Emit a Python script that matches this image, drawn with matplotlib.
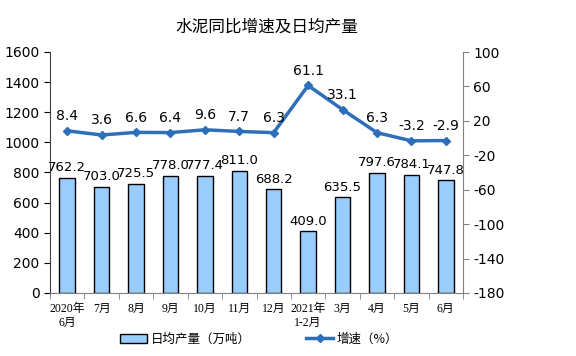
import matplotlib.pyplot as plt
import numpy as np

plt.rcParams['font.family'] = ['DejaVu Sans', 'Noto Sans CJK SC']
plt.rcParams['axes.unicode_minus'] = False

months = ['2020年\n6月', '7月', '8月', '9月', '10月', '11月', '12月',
          '2021年\n1-2月', '3月', '4月', '5月', '6月']
output = [762.2, 703.0, 725.5, 778.0, 777.4, 811.0, 688.2,
          409.0, 635.5, 797.6, 784.1, 747.8]
growth = [8.4, 3.6, 6.6, 6.4, 9.6, 7.7, 6.3, 61.1, 33.1, 6.3, -3.2, -2.9]

bar_color = '#99ccff'
line_color = '#2e6fba'
cjk = ['Noto Sans CJK SC', 'DejaVu Sans']
serif_cjk = ['Liberation Serif', 'Noto Sans CJK SC']

fig = plt.figure(figsize=(5.76, 3.56), dpi=100)
ax = fig.add_axes([50 / 576, 1 - 293 / 356, 413 / 576, 241 / 356])
ax2 = ax.twinx()

x = np.arange(len(months))
bars = ax.bar(x, output, width=0.45, color=bar_color, edgecolor='black',
              linewidth=1, zorder=2)
for xi, v in zip(x, output):
    ax.text(xi, v + 25, f'{v:.1f}', ha='center', va='bottom', fontsize=9.5)

ax.set_xlim(-0.5, len(months) - 0.5)
ax.set_ylim(0, 1600)
ax.set_yticks(range(0, 1601, 200))
ax.set_xticks(x)
ax.set_xticklabels(months, family=serif_cjk, fontsize=8.5, linespacing=1.3)
ax.set_xticks(np.arange(-0.5, len(months), 1), minor=True)
ax.tick_params(axis='x', which='major', length=0, pad=7)
ax.tick_params(axis='x', which='minor', length=4, color='#808080')
ax.tick_params(axis='y', labelsize=10, direction='out', length=4)

ln, = ax2.plot(x, growth, color=line_color, linewidth=2.5, marker='D',
               markersize=4, zorder=3)
for xi, v in zip(x, growth):
    ax2.text(xi, v + 9, f'{v:.1f}', ha='center', va='bottom', fontsize=10)
ax2.set_ylim(-180, 100)
ax2.set_yticks(range(-180, 101, 40))
ax2.tick_params(axis='y', labelsize=10, length=4, color='#808080')

for a in (ax, ax2):
    a.spines['top'].set_visible(False)
ax.spines['right'].set_visible(False)
ax2.spines['left'].set_visible(False)
ax2.spines['bottom'].set_visible(False)
ax.spines['bottom'].set_color('#808080')
ax.spines['left'].set_color('#404040')
ax2.spines['right'].set_color('#808080')

fig.text(267 / 576, 1 - 27 / 356, '水泥同比增速及日均产量', ha='center',
         va='center', fontsize=12, family=cjk)

fig.legend([bars, ln], ['日均产量（万吨）', '增速（%）'], loc='center',
           bbox_to_anchor=(259 / 576, 1 - 339 / 356), ncol=2, frameon=False,
           prop={'family': cjk, 'size': 9}, columnspacing=4.4,
           handlelength=2.2, handletextpad=0.3)

fig.savefig('out.png', dpi=100)
